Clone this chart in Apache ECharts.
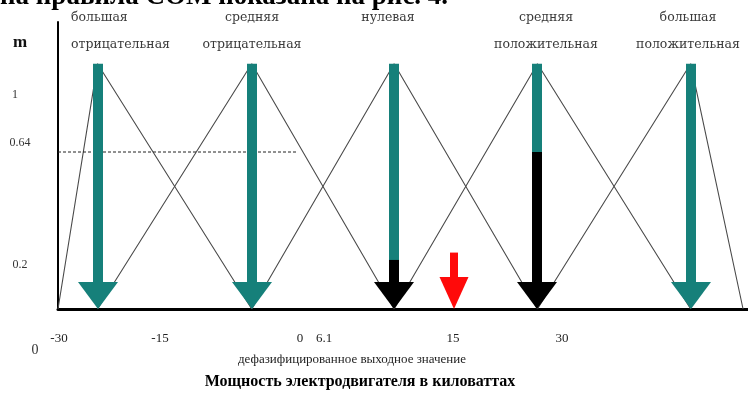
<!DOCTYPE html>
<html>
<head>
<meta charset="utf-8">
<script src="https://cdn.jsdelivr.net/npm/echarts@6/dist/echarts.min.js"></script>
<style>
  html, body { margin: 0; padding: 0; background: #fff; }
  #chart { width: 748px; height: 404px; }
</style>
</head>
<body>
<div id="chart"></div>
<script>
// Output linguistic terms of the motor power variable
const termTop    = ['большая', 'средняя', 'нулевая', 'средняя', 'большая'];
const termBottom = ['отрицательная', 'отрицательная', '', 'положительная', 'положительная'];
// Peak (core) of each triangular membership function, kW
const termPeaks = [-30, -14.4, 0, 14.5, 30];
// Outer feet of the first and last triangles
const outerFeet = [-34, 35.3];
const peakDegree = 1;
// Degree to which each rule fires (clipped part of the arrow)
const firingDegrees = [0, 0, 0.2, 0.64, 0];
// Defuzzified (crisp) output
const crispValue = 6.1;
const crispArrowHeight = 0.23;
// Dashed guide at the 0.64 membership level
const guideLevel = 0.64;
const guideEnd = -9.8;
// Axis texts
const xTickLabels = ['-30', '-15', '0', '6.1', '15', '30'];
const yTickLabels = ['1', '0.64', '0.2'];
const yAxisName = 'm';
const originLabel = '0';
const xCaption = 'дефазифицированное выходное значение';
const xTitle = 'Мощность электродвигателя в киловаттах';
const headline = 'на правила СОМ показана на рис. 4.';

// ---- layout & styles ----
const SERIF = '"Liberation Serif", "Times New Roman", serif';
const WIDE_SERIF = '"DejaVu Serif", "Liberation Serif", serif';
const TEAL = '#16807a';
const BLACK = '#000';
const RED = '#ff0a0a';
const xTickPx = [59, 160, 300, 324, 453, 562];
const yTickPx = [[15, 95], [20, 143], [20, 265]];
const termLabelPx = [
  { x: 71, align: 'left' },
  { x: 252, align: 'center' },
  { x: 388, align: 'center' },
  { x: 546, align: 'center' },
  { x: 688, align: 'center' }
];

const triangleSeries = termPeaks.map((p, i) => {
  const left = i === 0 ? outerFeet[0] : termPeaks[i - 1];
  const right = i === termPeaks.length - 1 ? outerFeet[1] : termPeaks[i + 1];
  return {
    type: 'line',
    data: [[left, 0], [p, peakDegree], [right, 0]],
    symbol: 'none',
    silent: true,
    z: 2,
    lineStyle: { color: '#4a4a4a', width: 1.1 }
  };
});

function arrowRenderer(shaftW, headW, headH, topColor, cutColor) {
  return function (params, api) {
    const x = api.value(0);
    const top = api.coord([x, api.value(1)]);
    const base = api.coord([x, 0]);
    const cut = api.value(2);
    const cx = Math.round(top[0]);
    const headTop = base[1] - headH;
    const children = [{
      type: 'rect',
      shape: { x: cx - shaftW / 2, y: top[1], width: shaftW, height: headTop - top[1] + 1 },
      style: { fill: topColor }
    }];
    let headColor = topColor;
    if (cut > 0) {
      const cy = api.coord([x, cut])[1];
      children.push({
        type: 'rect',
        shape: { x: cx - shaftW / 2, y: cy, width: shaftW, height: headTop - cy + 1 },
        style: { fill: cutColor }
      });
      headColor = cutColor;
    }
    children.push({
      type: 'polygon',
      shape: { points: [[cx - headW / 2, headTop], [cx + headW / 2, headTop], [cx, base[1]]] },
      style: { fill: headColor }
    });
    return { type: 'group', children };
  };
}

const graphics = [];
function addText(text, x, y, opts) {
  graphics.push({
    type: 'text', x, y, silent: true, z: 10,
    style: Object.assign({
      text, fill: '#222', fontFamily: SERIF, fontSize: 13,
      align: 'center', verticalAlign: 'middle'
    }, opts || {})
  });
}
addText(headline, 0, 11, { fontSize: 27, fontWeight: 'bold', align: 'left', verticalAlign: 'bottom', fill: '#000' });
termTop.forEach((t, i) => {
  const l = termLabelPx[i];
  addText(t, l.x, 18, { fontSize: 12.5, fontFamily: WIDE_SERIF, align: l.align, fill: '#3a3a3a' });
  if (termBottom[i]) addText(termBottom[i], l.x, 45, { fontSize: 12.5, fontFamily: WIDE_SERIF, align: l.align, fill: '#3a3a3a' });
});
addText(yAxisName, 20, 43, { fontSize: 17, fontWeight: 'bold', fill: '#111' });
yTickLabels.forEach((t, i) => addText(t, yTickPx[i][0], yTickPx[i][1], { fontSize: 12, fill: '#333' }));
addText(originLabel, 35, 350, { fontSize: 14, fill: '#333' });
xTickLabels.forEach((t, i) => addText(t, xTickPx[i], 339, { fontSize: 13, fill: '#222' }));
addText(xCaption, 352, 360, { fontSize: 13, fill: '#222' });
addText(xTitle, 360, 382, { fontSize: 16, fontWeight: 'bold', fill: '#000' });

const chart = echarts.init(document.getElementById('chart'), null, { renderer: 'canvas' });
chart.setOption({
  animation: false,
  backgroundColor: '#fff',
  grid: { left: 58, right: 0, top: 22, bottom: 95 },
  xAxis: {
    type: 'value', min: -34, max: 35.8,
    axisLine: { show: true, onZero: true, lineStyle: { color: '#000', width: 3 } },
    axisTick: { show: false }, axisLabel: { show: false }, splitLine: { show: false }
  },
  yAxis: {
    type: 'value', min: 0, max: 1.17,
    axisLine: { show: true, onZero: false, lineStyle: { color: '#000', width: 2 } },
    axisTick: { show: false }, axisLabel: { show: false }, splitLine: { show: false }
  },
  series: [
    ...triangleSeries,
    {
      type: 'line',
      data: [[outerFeet[0], guideLevel], [guideEnd, guideLevel]],
      symbol: 'none', silent: true, z: 2,
      lineStyle: { color: '#222', width: 1, type: [3, 2] }
    },
    {
      type: 'custom',
      z: 5,
      renderItem: arrowRenderer(10, 40, 27, TEAL, BLACK),
      data: termPeaks.map((p, i) => [p, peakDegree, firingDegrees[i]])
    },
    {
      type: 'custom',
      z: 5,
      renderItem: arrowRenderer(8, 29, 32, RED, RED),
      data: [[crispValue, crispArrowHeight, 0]]
    }
  ],
  graphic: graphics
});
</script>
</body>
</html>
